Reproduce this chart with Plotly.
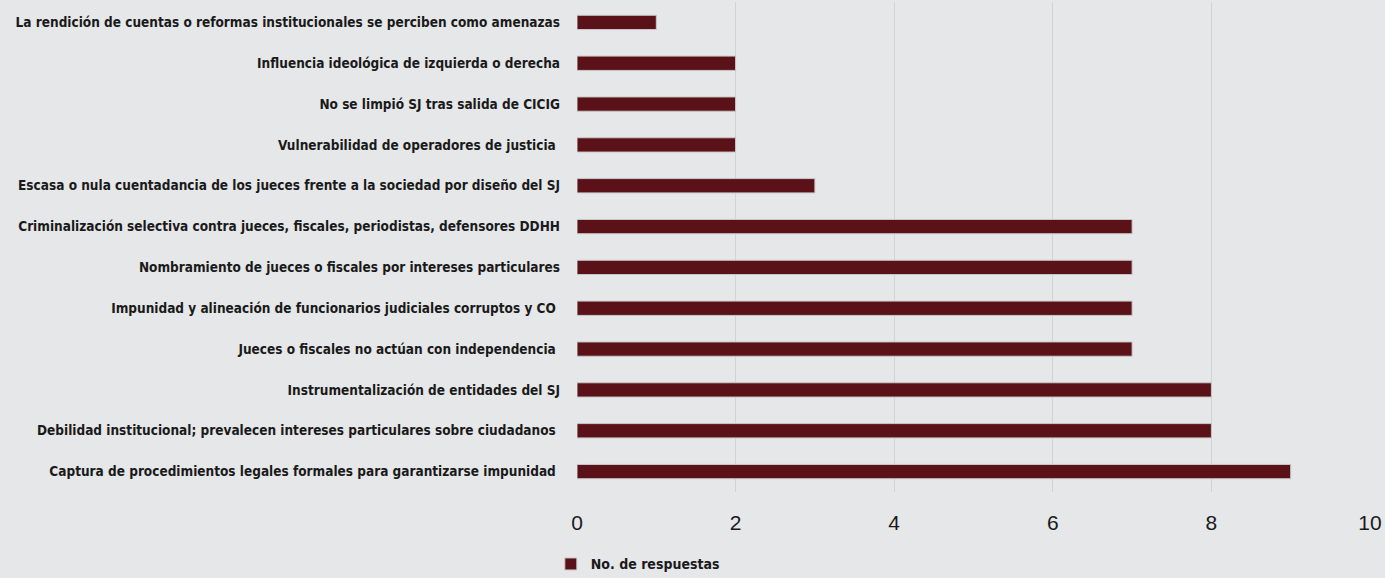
import plotly.graph_objects as go

categories = [
    "La rendición de cuentas o reformas institucionales se perciben como amenazas",
    "Influencia ideológica de izquierda o derecha",
    "No se limpió SJ tras salida de CICIG",
    "Vulnerabilidad de operadores de justicia ",
    "Escasa o nula cuentadancia de los jueces frente a la sociedad por diseño del SJ",
    "Criminalización selectiva contra jueces, fiscales, periodistas, defensores DDHH",
    "Nombramiento de jueces o fiscales por intereses particulares",
    "Impunidad y alineación de funcionarios judiciales corruptos y CO ",
    "Jueces o fiscales no actúan con independencia ",
    "Instrumentalización de entidades del SJ",
    "Debilidad institucional; prevalecen intereses particulares sobre ciudadanos ",
    "Captura de procedimientos legales formales para garantizarse impunidad ",
]
values = [1, 2, 2, 2, 3, 7, 7, 7, 7, 8, 8, 9]
series_name = "No. de respuestas"
x_ticks = [0, 2, 4, 6, 8, 10]

label_font = "Liberation Sans Narrow, DejaVu Sans Condensed, Roboto, sans-serif"

fig = go.Figure(
    go.Bar(
        y=categories,
        x=values,
        orientation="h",
        name=series_name,
        marker=dict(color="#5a1118", line=dict(color="#c9c9c9", width=1)),
        width=0.35,
        showlegend=True,
    )
)

fig.update_layout(
    width=1385,
    height=578,
    paper_bgcolor="#e6e7e9",
    plot_bgcolor="#e6e7e9",
    margin=dict(l=577, r=15, t=2, b=86, autoexpand=False),
    showlegend=True,
    legend=dict(
        orientation="h",
        x=-0.033,
        xanchor="left",
        y=-0.115,
        yanchor="top",
        font=dict(family=label_font, size=14, color="#1a1a1a", weight="bold"),
        bgcolor="rgba(0,0,0,0)",
    ),
    xaxis=dict(
        range=[0, 10],
        tickvals=x_ticks,
        showgrid=True,
        gridcolor="#d2d3d5",
        gridwidth=1,
        zeroline=False,
        showline=False,
        automargin=False,
        tickfont=dict(family="Liberation Sans, Arial, sans-serif", size=21, color="#1a1a1a"),
        ticklabelstandoff=16,
    ),
    yaxis=dict(
        autorange="reversed",
        showgrid=False,
        zeroline=False,
        showline=False,
        automargin=False,
        tickfont=dict(family=label_font, size=13.5, color="#1a1a1a", weight="bold"),
        ticklabelstandoff=16,
    ),
)

fig.write_html(
    "out.html",
    config={"displayModeBar": False},
    post_script="document.body.style.margin='0';document.body.style.background='#e6e7e9';",
)
